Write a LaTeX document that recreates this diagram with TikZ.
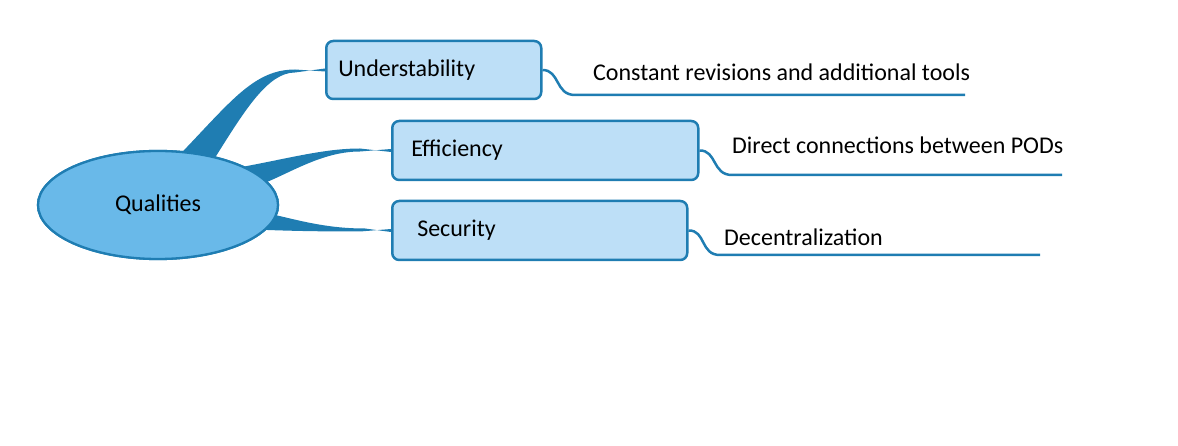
\documentclass[tikz,border=0pt]{standalone}
\usepackage{fontspec}
\setmainfont{Carlito}
\usetikzlibrary{shapes.geometric}
\definecolor{qline}{RGB}{31,125,178}
\definecolor{qcore}{RGB}{105,185,233}
\definecolor{qbox}{RGB}{189,223,247}
\begin{document}
\begin{tikzpicture}[x=1pt, y=-1pt, font=\fontsize{24}{28}\selectfont,
		core/.style = {draw=qline, fill=qcore, ellipse, line width=2.3pt, minimum width=240pt, minimum height=108pt},
		topic/.style = {draw=qline, fill=qbox, rounded corners=7pt, line width=2.5pt, anchor=west, align=left},
		leaf/.style = {anchor=west, inner sep=0pt},
		branch/.style = {fill=qline},
		twig/.style = {draw=qline, line width=2.5pt}]
		\useasboundingbox (0,0) rectangle (1178,446);
		
		\node[core] (Q) at (158,205) {};
		
		\node[topic, minimum width=215pt, minimum height=58pt, inner xsep=12pt, text width=191pt] (U) at (325,70) {Understability};
		\node[topic, minimum width=306pt, minimum height=59pt, inner xsep=19pt, text width=268pt] (E) at (391,150.5) {Efficiency};
		\node[topic, minimum width=295pt, minimum height=59pt, inner xsep=25pt, text width=245pt] (S) at (391,230.5) {Security};
		
		\node[leaf] (u) at (593,72) {Constant revisions and additional tools};
		\node[leaf] (e) at (732,145) {Direct connections between PODs};
		\node[leaf] (s) at (724,237) {Decentralization};
		
		\coordinate (u1) at (575,95);  \coordinate (u2) at (965,95);
		\coordinate (e1) at (732,175); \coordinate (e2) at (1062,175);
		\coordinate (s1) at (720,255); \coordinate (s2) at (1040,255);
		
		% tapered branches from the core
		\fill[branch] (Q.65) .. controls (232,100) and (255,69.5) .. (295,69.5) -- ([yshift=-1.5pt]U.west)
			-- ([yshift=1.5pt]U.west) -- (295,72.5) .. controls (268,72.5) and (245,110) .. (Q.40) -- (Q.center) -- cycle;
		\fill[branch] (Q.24) .. controls (290,158) and (325,148.5) .. (360,148.5) -- ([yshift=-1.5pt]E.west)
			-- ([yshift=1.5pt]E.west) -- (360,151.5) .. controls (325,151.5) and (295,170) .. (Q.12) -- (Q.center) -- cycle;
		\fill[branch] (Q.-5) .. controls (305,222) and (330,228.5) .. (365,228.5) -- ([yshift=-1.5pt]S.west)
			-- ([yshift=1.5pt]S.west) -- (360,231.5) .. controls (320,231.5) and (295,231) .. (Q.-13) -- (Q.center) -- cycle;
		
		\node[core] at (Q) {Qualities};
		
		\draw[twig] (U.east) .. controls (560,70) and (555,95) .. (u1) -- (u2);
		\draw[twig] (E.east) .. controls (717,150) and (712,175) .. (e1) -- (e2);
		\draw[twig] (S.east) .. controls (706,230) and (700,255) .. (s1) -- (s2);
		
	\end{tikzpicture}
\end{document}
